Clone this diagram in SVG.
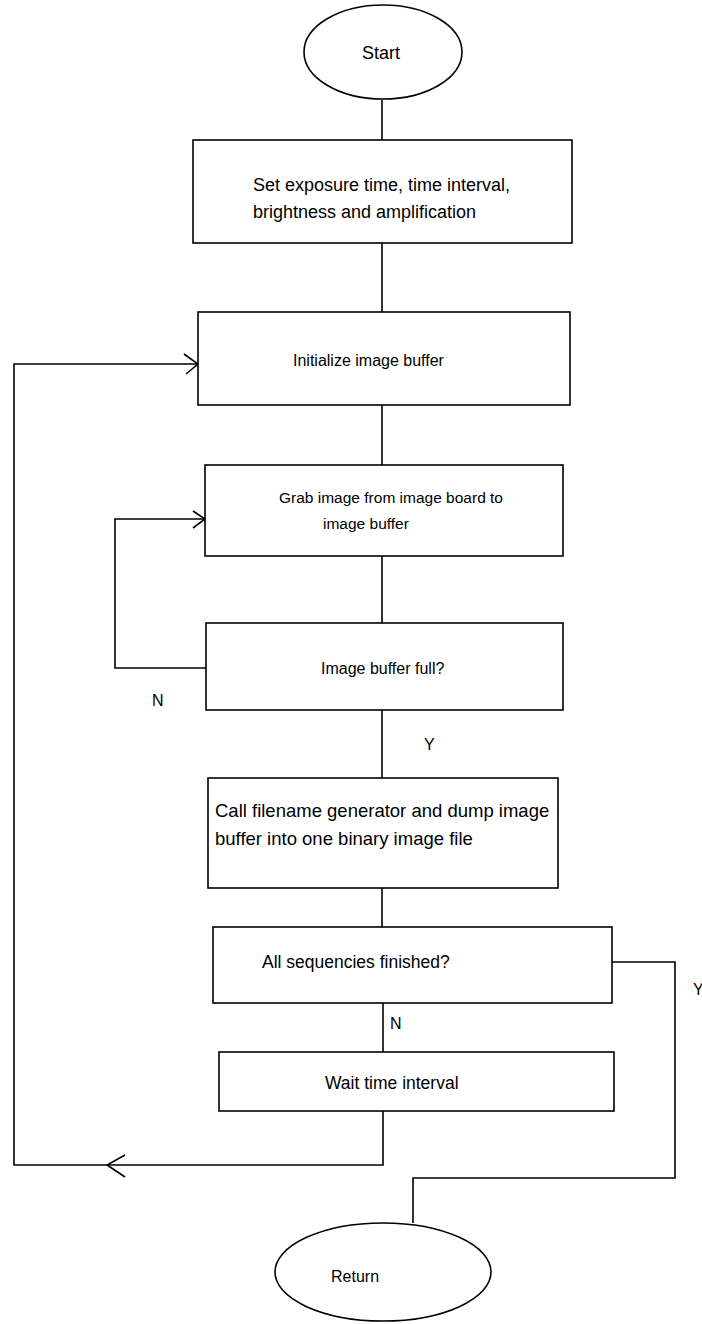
<svg xmlns="http://www.w3.org/2000/svg" width="702" height="1324" viewBox="0 0 702 1324">
<style>
.s{fill:#fff;stroke:#000;stroke-width:1.6}
.c{fill:none;stroke:#000;stroke-width:1.6}
text{font-family:"Liberation Sans",Arial,sans-serif;font-size:16px;fill:#000}
.b1{font-size:18px}
.b5{font-size:18.5px}
.b6{font-size:17.5px}
</style>
<rect width="702" height="1324" fill="#fff"/>
<g id="connectors">
<line class="c" x1="382" y1="100" x2="382" y2="140"/>
<line class="c" x1="382" y1="243" x2="382" y2="312"/>
<line class="c" x1="382" y1="405" x2="382" y2="465"/>
<line class="c" x1="382" y1="556" x2="382" y2="623"/>
<line class="c" x1="382" y1="710" x2="382" y2="778"/>
<line class="c" x1="382" y1="888" x2="382" y2="927"/>
<line class="c" x1="383" y1="1003" x2="383" y2="1052"/>
<polyline class="c" points="206,668 115,668 115,519 205,519"/>
<polyline class="c" points="193,511 205,519 193,528"/>
<polyline class="c" points="383,1111 383,1165 14,1165 14,364 198,364"/>
<polyline class="c" points="184,354 198,364 186,374"/>
<polyline class="c" points="125,1155 107,1165 125,1177"/>
<polyline class="c" points="612,962 675,962 675,1178 413,1178 413,1223"/>
<text x="152" y="706">N</text>
<text x="424" y="750">Y</text>
<text x="390" y="1029">N</text>
<text x="693" y="995">Y</text>
</g>
<g id="start">
<ellipse class="s" cx="383" cy="52" rx="79" ry="47"/>
<text x="381" y="59" text-anchor="middle" style="font-size:18px">Start</text>
</g>
<g id="set-exposure">
<rect class="s" x="193" y="140" width="379" height="103"/>
<text class="b1" x="253" y="191">Set exposure time, time interval,</text>
<text class="b1" x="253" y="218">brightness and amplification</text>
</g>
<g id="init-buffer">
<rect class="s" x="198" y="312" width="372" height="93"/>
<text x="293" y="366">Initialize image buffer</text>
</g>
<g id="grab-image">
<rect class="s" x="205" y="465" width="358" height="91"/>
<text x="279" y="503" style="font-size:15.5px">Grab image from image board to</text>
<text x="323" y="529" style="font-size:15.5px">image buffer</text>
</g>
<g id="buffer-full">
<rect class="s" x="206" y="623" width="357" height="87"/>
<text x="321" y="674">Image buffer full?</text>
</g>
<g id="dump-file">
<rect class="s" x="208" y="778" width="350" height="110"/>
<text class="b5" x="215" y="817">Call filename generator and dump image</text>
<text class="b5" x="215" y="845">buffer into one binary image file</text>
</g>
<g id="all-finished">
<rect class="s" x="213" y="927" width="399" height="76"/>
<text class="b6" x="262" y="968">All sequencies finished?</text>
</g>
<g id="wait">
<rect class="s" x="219" y="1052" width="395" height="59"/>
<text class="b6" x="325" y="1089">Wait time interval</text>
</g>
<g id="return">
<ellipse class="s" cx="383" cy="1272" rx="108" ry="49"/>
<text x="331" y="1282">Return</text>
</g>
</svg>
